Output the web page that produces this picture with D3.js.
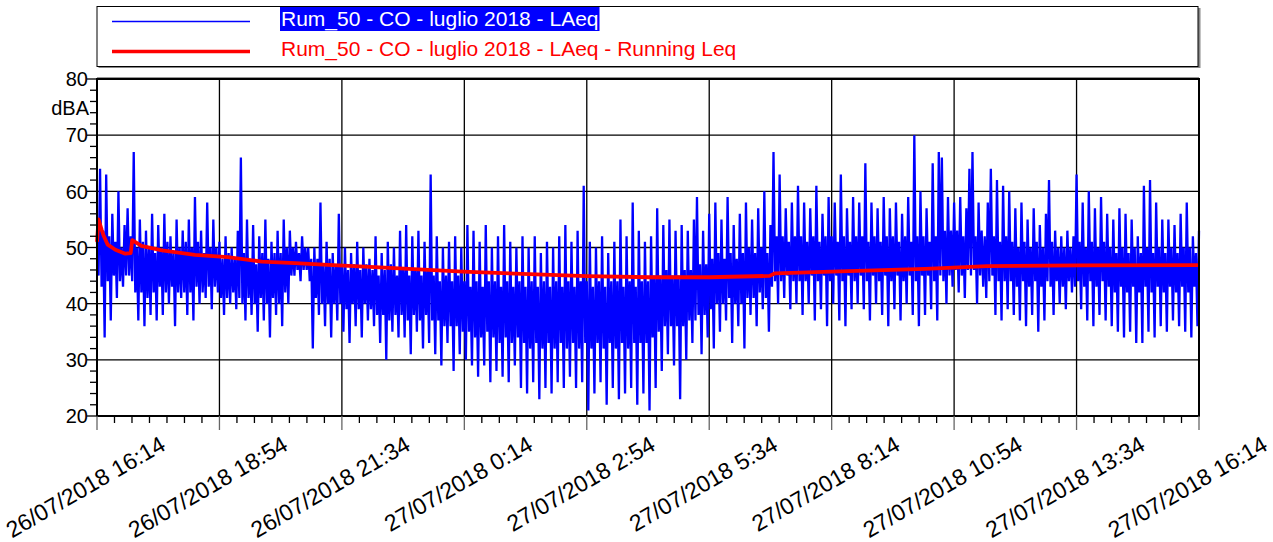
<!DOCTYPE html>
<html>
<head>
<meta charset="utf-8">
<script src="https://cdn.jsdelivr.net/npm/d3@7"></script>
<style>
  body { margin: 0; background: #fff; }
  svg { font-family: Arial, "Liberation Sans", sans-serif; }
</style>
</head>
<body>
<div id="chart"></div>
<script>
// LAeq readings, one every 2 minutes from 26/07/2018 16:14 (peaks / troughs)
const laeq = [
  51,45, 64,43, 53,34, 63,44, 52,37, 56,45, 51,41, 60,44, 50,43, 54,45,
  57,45, 52,44, 67,42, 50,37, 55,42, 51,36, 53,41, 50,38, 56,42, 49,37,
  54,43, 50,38, 56,42, 51,40, 52,43, 49,36, 55,42, 50,41, 53,42, 51,38,
  55,42, 50,37, 59,43, 51,40, 53,42, 49,41, 58,43, 50,39, 55,43, 50,42,
  51,41, 48,38, 52,41, 49,40, 50,42, 48,39, 53,41, 66,40, 49,37, 55,41,
  48,38, 54,40, 47,35, 52,41, 49,37, 55,40, 48,34, 51,41, 49,38, 53,40,
  49,36, 55,42, 50,40, 53,45, 50,45, 51,46, 49,44, 52,46, 50,46, 50,44,
  48,32, 50,41, 48,38, 58,40, 47,36, 51,40, 48,34, 49,40, 47,37, 56,40,
  47,35, 50,39, 46,33, 49,40, 47,36, 51,39, 46,34, 50,40, 47,37, 48,39,
  46,36, 52,38, 45,33, 49,38, 46,30, 51,37, 47,35, 50,38, 45,34, 53,38,
  46,34, 54,37, 45,31, 52,38, 46,35, 53,37, 45,32, 51,38, 46,33, 63,37,
  45,31, 52,37, 44,29, 50,36, 45,33, 51,36, 44,28, 52,36, 45,31, 50,35,
  44,30, 54,35, 43,29, 53,34, 44,27, 51,34, 43,29, 54,35, 44,26, 50,34,
  44,28, 52,33, 43,27, 54,34, 44,26, 51,33, 43,29, 50,34, 44,25, 52,33,
  43,24, 50,32, 44,26, 52,33, 43,23, 49,32, 44,25, 51,33, 43,24, 50,32,
  44,26, 52,33, 43,25, 54,32, 44,27, 51,33, 43,25, 53,32, 44,26, 61,33,
  44,21, 51,32, 43,24, 50,33, 44,26, 52,32, 43,22, 49,33, 44,25, 51,32,
  44,23, 55,33, 43,24, 52,32, 44,25, 58,33, 43,22, 53,33, 44,24, 51,33,
  44,21, 52,34, 45,25, 57,35, 45,28, 54,36, 46,31, 55,36, 45,29, 53,36,
  45,23, 54,36, 46,30, 53,37, 46,33, 55,37, 59,38, 47,31, 53,38, 47,34,
  56,39, 48,32, 58,40, 49,35, 55,40, 48,37, 59,41, 49,33, 54,40, 48,36,
  56,40, 49,32, 58,41, 50,38, 55,41, 49,36, 57,42, 50,39, 60,41, 49,35,
  54,43, 67,44, 52,40, 63,44, 52,41, 57,45, 51,39, 58,44, 52,40, 61,44,
  52,38, 58,44, 51,40, 57,45, 52,37, 61,44, 51,39, 56,45, 52,36, 59,44,
  52,40, 58,45, 51,37, 63,44, 52,36, 57,45, 51,39, 59,44, 52,40, 58,45,
  52,39, 65,44, 51,37, 58,45, 52,40, 57,44, 51,38, 59,45, 52,36, 57,44,
  52,39, 58,45, 51,37, 56,44, 52,40, 59,45, 51,38, 70,44, 52,36, 60,45,
  52,38, 57,45, 51,39, 65,44, 52,37, 67,45, 66,44, 53,40, 59,45, 53,43,
  58,46, 53,42, 59,45, 52,41, 57,46, 64,45, 67,46, 52,40, 58,45, 53,43,
  52,41, 58,44, 64,45, 52,38, 62,44, 51,37, 61,44, 52,39, 60,44, 51,38,
  57,43, 50,37, 58,44, 51,36, 55,43, 50,38, 57,44, 51,35, 54,43, 50,37,
  56,44, 62,43, 51,38, 53,44, 50,40, 52,43, 50,39, 53,44, 50,42, 52,43,
  63,44, 51,39, 58,43, 50,37, 60,44, 51,36, 57,43, 50,38, 59,44, 51,37,
  56,43, 50,36, 55,42, 49,35, 57,43, 50,34, 56,42, 49,35, 55,43, 50,33,
  52,42, 49,33, 61,43, 50,35, 62,42, 49,34, 58,43, 50,36, 55,42, 49,35,
  55,43, 50,37, 54,42, 49,36, 56,43, 50,35, 58,42, 50,34, 52,43, 49,36,
  53
]

// Running Leq: minutes from start and value
const leqMinutes = [0, 2, 6, 9, 14, 24, 37, 44, 46, 58, 85, 128, 171, 215, 259, 302, 363, 478, 640, 723, 800, 879, 886, 960, 1082, 1163, 1281, 1440]
const leqValues  = [51, 55, 53.2, 52, 50.5, 49.6, 48.9, 49.0, 51.3, 50.3, 49.5, 48.7, 48.3, 47.5, 47.2, 46.9, 46.5, 45.7, 44.9, 44.7, 44.7, 44.95, 45.4, 45.7, 46.2, 46.7, 46.8, 46.85]

const yTicks = [20, 30, 40, 50, 60, 70, 80]
const legendLabels = ["Rum_50 - CO - luglio 2018 - LAeq", "Rum_50 - CO - luglio 2018 - LAeq - Running Leq"]

const start = new Date(2018, 6, 26, 16, 14)
const end = new Date(2018, 6, 27, 16, 14)
const stepMin = 2

const w = 1273, h = 542
const margin = ({top: 79, right: 74, bottom: 126, left: 97})

const x = d3.scaleTime()
    .domain([start, end])
    .range([margin.left, w - margin.right])

const y = d3.scaleLinear()
    .domain([20, 80])
    .range([h - margin.bottom, margin.top])

const svg = d3.select("#chart")
    .append("svg")
    .attr("width", w)
    .attr("height", h)

// major x ticks every 160 min, minor every 160/7 min
const majorX = d3.range(0, 10).map(k => d3.timeMinute.offset(start, k * 160))
const minorX = []
for (let k = 0; k < 9; k++) {
    for (let j = 1; j < 7; j++) {
        minorX.push(new Date(start.getTime() + (k * 160 + j * 160 / 7) * 60000))
    }
}
const minorY = d3.range(20, 81, 2).filter(v => v % 10 !== 0)

// grid
const grid = svg.append("g").attr("stroke", "#000").attr("stroke-width", 1.3)
grid.selectAll(".hg")
    .data(yTicks)
    .join("line")
    .attr("x1", margin.left).attr("x2", w - margin.right)
    .attr("y1", d => y(d)).attr("y2", d => y(d))
grid.selectAll(".vg")
    .data(majorX.slice(1, -1))
    .join("line")
    .attr("x1", d => x(d)).attr("x2", d => x(d))
    .attr("y1", margin.top).attr("y2", h - margin.bottom)

// blue LAeq trace
const line = d3.line()
    .x((d, i) => x(d3.timeMinute.offset(start, i * stepMin)))
    .y(d => y(d))

svg.append("path")
    .datum(laeq)
    .attr("fill", "none")
    .attr("stroke", "#0000ff")
    .attr("stroke-width", 2.3)
    .attr("stroke-linejoin", "miter")
    .attr("d", line)

// running Leq
const leqLine = d3.line()
    .x((d, i) => x(d3.timeMinute.offset(start, leqMinutes[i])))
    .y(d => y(d))

svg.append("path")
    .datum(leqValues)
    .attr("fill", "none")
    .attr("stroke", "#ff0000")
    .attr("stroke-width", 3.8)
    .attr("stroke-linejoin", "round")
    .attr("d", leqLine)

// frame
svg.append("line")
    .attr("x1", margin.left).attr("x2", w - margin.right)
    .attr("y1", margin.top - 1.5).attr("y2", margin.top - 1.5)
    .attr("stroke", "#999").attr("stroke-width", 1)
svg.append("rect")
    .attr("x", margin.left).attr("y", margin.top)
    .attr("width", w - margin.right - margin.left)
    .attr("height", h - margin.bottom - margin.top)
    .attr("fill", "none")
    .attr("stroke", "#000")
    .attr("stroke-width", 2)

// y axis
const yAxis = svg.append("g").attr("stroke", "#000").attr("stroke-width", 1.3)
yAxis.selectAll(".ymaj")
    .data(yTicks)
    .join("line")
    .attr("x1", margin.left - 10).attr("x2", margin.left)
    .attr("y1", d => y(d)).attr("y2", d => y(d))
yAxis.selectAll(".ymin")
    .data(minorY)
    .join("line")
    .attr("x1", margin.left - 7).attr("x2", margin.left)
    .attr("y1", d => y(d)).attr("y2", d => y(d))

svg.append("g")
    .attr("font-size", 20)
    .attr("text-anchor", "end")
    .selectAll("text")
    .data(yTicks)
    .join("text")
    .attr("x", margin.left - 9)
    .attr("y", d => y(d))
    .attr("dy", "0.36em")
    .text(d => d)

svg.append("text")
    .attr("x", margin.left - 8)
    .attr("y", 115)
    .attr("font-size", 20)
    .attr("text-anchor", "end")
    .text("dBA")

// x axis
const xAxis = svg.append("g").attr("stroke", "#000").attr("stroke-width", 1.3)
xAxis.selectAll(".xmaj")
    .data(majorX)
    .join("line")
    .attr("x1", d => x(d)).attr("x2", d => x(d))
    .attr("y1", h - margin.bottom).attr("y2", h - margin.bottom + 14)
    .attr("stroke", "#666")
xAxis.selectAll(".xmin")
    .data(minorX)
    .join("line")
    .attr("x1", d => x(d)).attr("x2", d => x(d))
    .attr("y1", h - margin.bottom).attr("y2", h - margin.bottom + 7)

const fmt = d3.timeFormat("%d/%m/%Y %-H:%M")
svg.append("g")
    .attr("font-size", 23)
    .attr("text-anchor", "end")
    .selectAll("text")
    .data(majorX)
    .join("text")
    .attr("transform", d => `translate(${x(d) + 70},${h - margin.bottom + 33}) rotate(-30)`)
    .text(d => fmt(d))

// legend
const legend = svg.append("g")
legend.append("rect")
    .attr("x", margin.left + 1.5).attr("y", 8)
    .attr("width", w - margin.right - margin.left).attr("height", 60)
    .attr("fill", "#888")
legend.append("rect")
    .attr("x", margin.left).attr("y", 6.5)
    .attr("width", w - margin.right - margin.left - 1).attr("height", 60)
    .attr("fill", "#fff")
    .attr("stroke", "#000")
    .attr("stroke-width", 1)

legend.append("line")
    .attr("x1", 112).attr("x2", 250)
    .attr("y1", 21.5).attr("y2", 21.5)
    .attr("stroke", "#0000ff").attr("stroke-width", 1.5)
legend.append("line")
    .attr("x1", 112).attr("x2", 250)
    .attr("y1", 51.5).attr("y2", 51.5)
    .attr("stroke", "#ff0000").attr("stroke-width", 3.3)

const t1 = legend.append("text")
    .attr("x", 281).attr("y", 26)
    .attr("font-size", 21)
    .attr("fill", "#fff")
    .text(legendLabels[0])
const bb = t1.node().getBBox()
legend.insert("rect", "text")
    .attr("x", 280).attr("y", 7)
    .attr("width", bb.width + 2).attr("height", 24)
    .attr("fill", "#0000ff")

legend.append("text")
    .attr("x", 281).attr("y", 56)
    .attr("font-size", 21)
    .attr("fill", "#ff0000")
    .text(legendLabels[1])
</script>
</body>
</html>
